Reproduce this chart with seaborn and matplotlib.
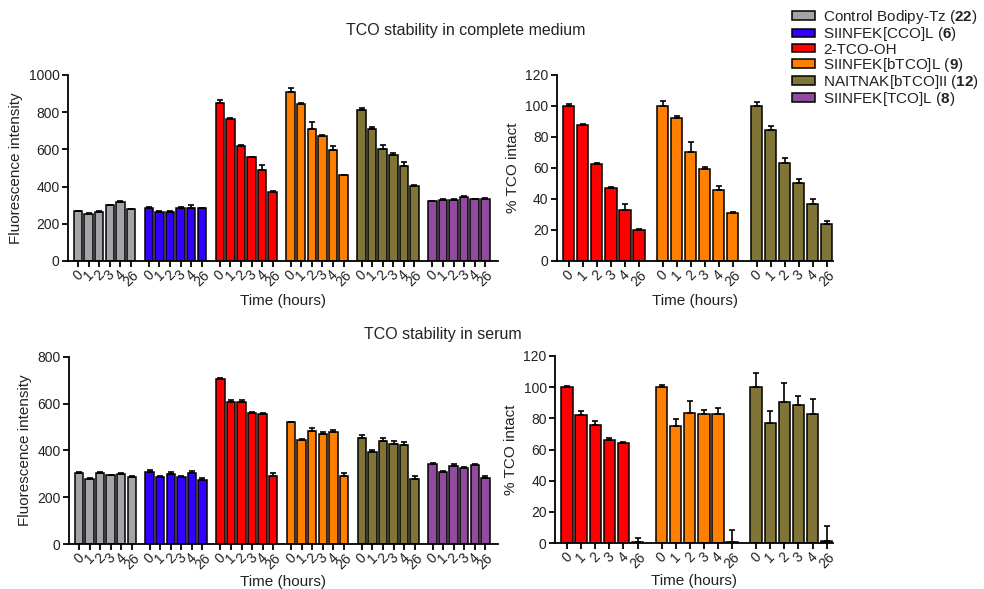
import numpy as np
import pandas as pd
from matplotlib import pyplot as plt
from matplotlib.patches import Patch
import seaborn as sns

# Данные: категории, значения и ошибки
times = ["0", "1", "2", "3", "4", "26"]
groups_all = ["Control Bodipy-Tz", "SIINFEK[CCO]L", "2-TCO-OH",
              "SIINFEK[bTCO]L", "NAITNAK[bTCO]II", "SIINFEK[TCO]L"]
groups_pct = ["2-TCO-OH", "SIINFEK[bTCO]L", "NAITNAK[bTCO]II"]
legend_labels = [r"Control Bodipy-Tz ($\mathbf{22}$)", r"SIINFEK[CCO]L ($\mathbf{6}$)",
                 "2-TCO-OH", r"SIINFEK[bTCO]L ($\mathbf{9}$)",
                 r"NAITNAK[bTCO]II ($\mathbf{12}$)", r"SIINFEK[TCO]L ($\mathbf{8}$)"]
colors = ["#A3A3A8", "#3300FF", "#FF0000", "#FF8000", "#807537", "#914A9E"]

# Полная среда - флуоресценция
medium_fl = [[268, 255, 265, 300, 318, 280],
             [283, 266, 266, 285, 285, 283],
             [852, 765, 618, 557, 490, 372],
             [910, 842, 708, 670, 595, 460],
             [810, 708, 603, 570, 513, 405],
             [320, 330, 330, 345, 332, 335]]
medium_fl_err = [[2, 2, 2, 3, 3, 2],
                 [5, 3, 3, 5, 15, 3],
                 [12, 2, 8, 3, 25, 3],
                 [20, 8, 40, 5, 25, 2],
                 [10, 12, 18, 10, 20, 6],
                 [2, 2, 2, 2, 2, 2]]
# Полная среда - % TCO
medium_pct = [[100, 88, 62.5, 47, 33, 20],
              [100, 92, 70.5, 59.5, 45.5, 31],
              [100, 84.5, 63, 50.5, 37, 24]]
medium_pct_err = [[1.5, 0.5, 1, 0.5, 3.5, 0.5],
                  [3, 1.5, 6, 1, 3, 0.5],
                  [2.5, 2.5, 3.5, 2.5, 3, 1.5]]
# Сыворотка - флуоресценция
serum_fl = [[305, 280, 305, 295, 300, 288],
            [310, 285, 300, 287, 305, 275],
            [706, 609, 609, 562, 557, 290],
            [520, 443, 485, 472, 480, 290],
            [453, 395, 440, 428, 423, 278],
            [342, 310, 332, 327, 336, 283]]
serum_fl_err = [[2, 2, 3, 2, 2, 2],
                [6, 4, 6, 3, 6, 8],
                [3, 8, 8, 3, 4, 12],
                [3, 6, 12, 6, 6, 15],
                [14, 8, 14, 12, 12, 12],
                [3, 4, 12, 3, 6, 8]]
# Сыворотка - % TCO
serum_pct = [[100, 82, 75.5, 66, 64, 0.5],
             [100, 75, 83.5, 82.5, 83, 0.5],
             [100, 77, 90.5, 88.5, 83, 1]]
serum_pct_err = [[1, 2.5, 3, 1.5, 1, 3],
                 [1.5, 4.5, 7.5, 3, 3.5, 8],
                 [9, 7.5, 12, 6, 9.5, 10]]

GROUP_STEP = 6.7
palette = dict(zip(groups_all, colors))

plt.rcParams['font.family'] = ['Liberation Sans', 'DejaVu Sans']
plt.rcParams['mathtext.fontset'] = 'custom'
plt.rcParams['mathtext.rm'] = 'Liberation Sans'
plt.rcParams['mathtext.bf'] = 'Liberation Sans:bold'
plt.rcParams['axes.linewidth'] = 1.3
plt.rcParams['xtick.major.width'] = 1.3
plt.rcParams['ytick.major.width'] = 1.3
plt.rcParams['text.color'] = '#222222'
plt.rcParams['axes.labelcolor'] = '#222222'
plt.rcParams['xtick.labelcolor'] = '#222222'
plt.rcParams['ytick.labelcolor'] = '#222222'


def make_df(groups, vals, errs):
    rows = []
    for gi, g in enumerate(groups):
        for ti, t in enumerate(times):
            rows.append({'group': g, 'time': t, 'pos': gi * GROUP_STEP + ti,
                         'value': vals[gi][ti], 'err': errs[gi][ti]})
    return pd.DataFrame(rows)


def draw(ax, groups, vals, errs, ymax, ystep, ylabel, xlim, labelpad=4):
    df = make_df(groups, vals, errs)
    sns.barplot(data=df, x='pos', y='value', hue='group', palette=palette,
                native_scale=True, dodge=False, errorbar=None, edgecolor='black',
                linewidth=1.1, saturation=1, legend=False, ax=ax, zorder=2)
    ax.errorbar(df['pos'], df['value'], yerr=[np.zeros(len(df)), df['err']],
                fmt='none', ecolor='black', elinewidth=1.2, capsize=2.5, capthick=1.2, zorder=3)
    ax.set_ylim(0, ymax)
    ax.set_yticks(np.arange(0, ymax + 1, ystep))
    ax.set_xticks(df['pos'])
    ax.set_xticklabels(df['time'], rotation=45, ha='center')
    ax.set_xlim(df['pos'].min() + xlim[0], df['pos'].max() + xlim[1])
    ax.set_xlabel('Time (hours)', fontsize=11, labelpad=labelpad)
    ax.set_ylabel(ylabel, fontsize=11)
    ax.tick_params(axis='both', labelsize=10, length=4, color='black', pad=2)
    ax.tick_params(axis='x', pad=1)
    sns.despine(ax=ax)


fig = plt.figure(figsize=(9.84, 5.89), dpi=100)
ax1 = fig.add_axes([0.0691, 0.5569, 0.4370, 0.3158])
ax2 = fig.add_axes([0.566, 0.5569, 0.2806, 0.3158])
ax3 = fig.add_axes([0.0701, 0.0764, 0.4360, 0.3175])
ax4 = fig.add_axes([0.564, 0.0780, 0.2826, 0.3176])

draw(ax1, groups_all, medium_fl, medium_fl_err, 1000, 200, 'Fluorescence intensity', (-0.95, 1.2))
draw(ax2, groups_pct, medium_pct, medium_pct_err, 120, 20, '% TCO intact', (-0.85, 0.45))
draw(ax3, groups_all, serum_fl, serum_fl_err, 800, 200, 'Fluorescence intensity', (-0.95, 1.2), labelpad=2)
draw(ax4, groups_pct, serum_pct, serum_pct_err, 120, 20, '% TCO intact', (-0.85, 0.45), labelpad=2)

fig.text(466 / 984, 1 - 30 / 589, 'TCO stability in complete medium', ha='center', va='center', fontsize=11.5)
fig.text(443 / 984, 1 - 335 / 589, 'TCO stability in serum', ha='center', va='center', fontsize=11.5)

handles = [Patch(facecolor=c, edgecolor='black', linewidth=1.1) for c in colors]
fig.legend(handles, legend_labels, loc='upper left', bbox_to_anchor=(789 / 984, 1 - 5 / 589),
           frameon=False, fontsize=11, handlelength=1.5, handleheight=0.5,
           labelspacing=-0.05, handletextpad=0.55, borderaxespad=0, borderpad=0.2)

fig.savefig('out.png', dpi=100)
